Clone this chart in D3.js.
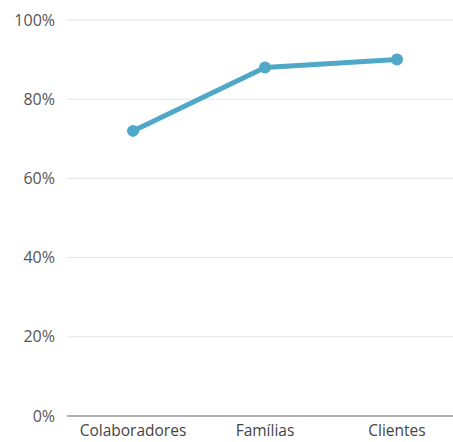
<!DOCTYPE html>
<html><head><meta charset="utf-8">
<script src="https://cdn.jsdelivr.net/npm/d3@7"></script>
<style>body{margin:0;background:#fff;}svg{display:block;}</style>
</head><body>
<svg id="c" width="453" height="442"></svg>
<script>
const categories = ["Colaboradores", "Famílias", "Clientes"];
const values = [72, 88, 90];
const yTicks = [0, 20, 40, 60, 80, 100];

const svg = d3.select("#c");
const x = d3.scalePoint().domain(categories).range([67, 463]).padding(0.5);
const y = d3.scaleLinear().domain([0, 100]).range([416, 20]);
const font = "'Open Sans', sans-serif";

svg.append("g").selectAll("line").data(yTicks.filter(d => d > 0)).join("line")
  .attr("x1", 67).attr("x2", 453).attr("y1", d => y(d)).attr("y2", d => y(d))
  .attr("stroke", "#e4e4e4").attr("stroke-width", 1);
svg.append("line").attr("x1", 67).attr("x2", 453).attr("y1", y(0)).attr("y2", y(0))
  .attr("stroke", "#9a9a9a").attr("stroke-width", 1.5);

svg.append("g").selectAll("text").data(yTicks).join("text")
  .attr("x", 55).attr("y", d => y(d)).attr("dy", "0.35em")
  .attr("text-anchor", "end").attr("font-family", font).attr("font-size", 16)
  .attr("fill", "#555").text(d => d + "%");

svg.append("g").selectAll("text").data(categories).join("text")
  .attr("x", d => x(d)).attr("y", 436).attr("text-anchor", "middle")
  .attr("font-family", font).attr("font-size", 15.5).attr("fill", "#444").text(d => d);

const line = d3.line().x((d, i) => x(categories[i])).y(d => y(d));
svg.append("path").datum(values).attr("d", line).attr("fill", "none")
  .attr("stroke", "#4fa8c7").attr("stroke-width", 5).attr("stroke-linejoin", "round");
svg.append("g").selectAll("circle").data(values).join("circle")
  .attr("cx", (d, i) => x(categories[i])).attr("cy", d => y(d)).attr("r", 6)
  .attr("fill", "#4fa8c7");
</script>
</body></html>
